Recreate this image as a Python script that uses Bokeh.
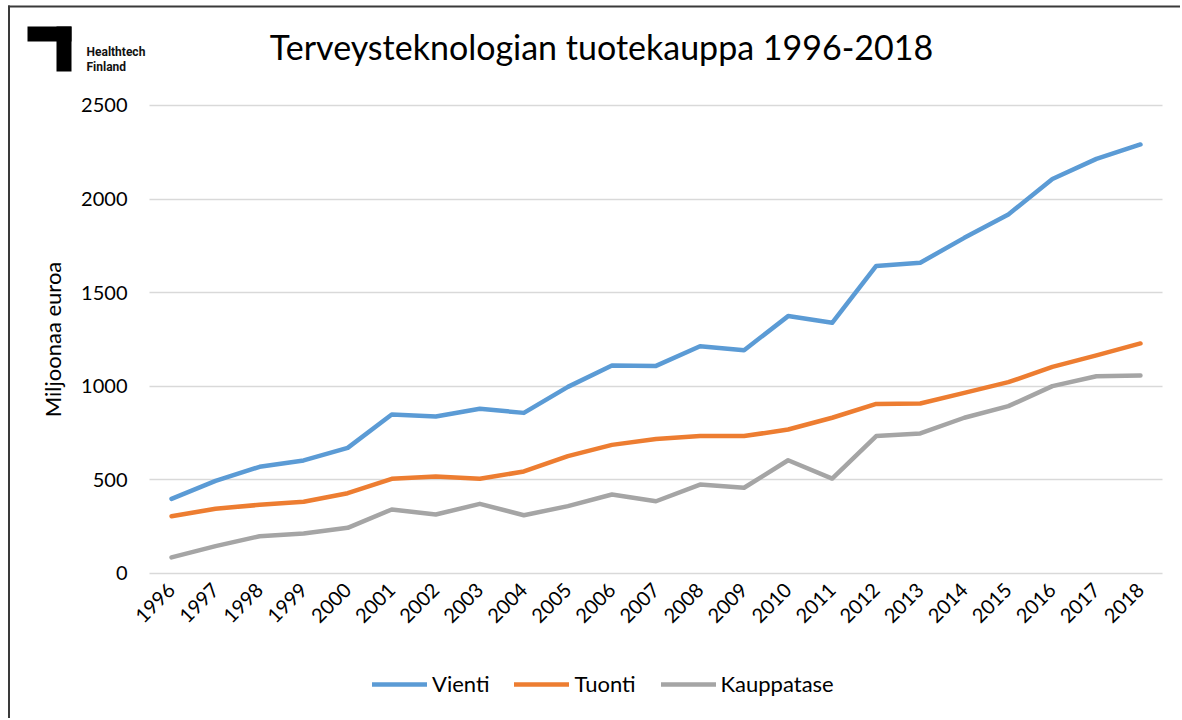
from bokeh.plotting import figure
from bokeh.embed import file_html
from bokeh.resources import INLINE
from bokeh.models import (Legend, LegendItem, BoxAnnotation, Label,
                          Range1d, FixedTicker)

# ---- data ----
years = list(range(1996, 2019))
year_labels = [str(y) for y in years]
vienti = [399, 495, 570, 604, 671, 849, 839, 880, 858, 997, 1111, 1109,
          1214, 1193, 1375, 1339, 1643, 1660, 1793, 1918, 2107, 2215, 2292]
tuonti = [306, 346, 367, 383, 429, 506, 518, 506, 545, 627, 687, 719,
          734, 734, 769, 832, 906, 908, 965, 1022, 1104, 1165, 1229]
kauppatase = [86, 146, 199, 214, 244, 342, 315, 372, 311, 360, 422, 386,
              475, 458, 605, 507, 734, 748, 832, 894, 1001, 1054, 1058]
y_ticks = [0, 500, 1000, 1500, 2000, 2500]
series_names = ["Vienti", "Tuonti", "Kauppatase"]
series_colors = ["#5B9BD5", "#ED7D31", "#A5A5A5"]
title_text = "Terveysteknologian tuotekauppa 1996-2018"
y_label = "Miljoonaa euroa"
logo_lines = ["Healthtech", "Finland"]

FONT = "Lato"

# plot area spans half a category beyond first/last year
x_lo, x_hi = years[0] - 0.5, years[-1] + 0.5
y_lo, y_hi = y_ticks[0], y_ticks[-1]

p = figure(frame_width=1180, frame_height=718,
           x_range=Range1d(1992.1169, 2018.9089),
           y_range=Range1d(-774.6, 3060.9),
           output_backend="svg", toolbar_location=None,
           min_border=0)

p.outline_line_color = None
p.background_fill_color = "white"
p.border_fill_color = "white"

# grid
p.xgrid.visible = False
p.ygrid.ticker = FixedTicker(ticks=y_ticks)
p.ygrid.grid_line_color = "#D9D9D9"
p.ygrid.grid_line_width = 1.5
p.ygrid.bounds = (y_lo, y_hi)
p.ygrid.cross_bounds = (x_lo, x_hi)

# axes
yax = p.yaxis[0]
xax = p.xaxis[0]
yax.ticker = FixedTicker(ticks=y_ticks)
xax.ticker = FixedTicker(ticks=years)
xax.major_label_overrides = {y: s for y, s in zip(years, year_labels)}
yax.fixed_location = x_lo
xax.fixed_location = y_lo
yax.bounds = (y_lo, y_hi)
xax.bounds = (x_lo, x_hi)
for ax in (xax, yax):
    ax.axis_line_color = None
    ax.major_tick_line_color = None
    ax.minor_tick_line_color = None
    ax.major_tick_out = 0
    ax.major_label_text_font = FONT
    ax.major_label_text_font_size = "20px"
    ax.major_label_text_color = "#000000"
yax.major_label_standoff = 22
yax.axis_label = y_label
yax.axis_label_text_font = FONT
yax.axis_label_text_font_size = "22px"
yax.axis_label_text_font_style = "normal"
yax.axis_label_text_color = "#000000"
yax.axis_label_standoff = 12
xax.major_label_orientation = 0.785398
xax.major_label_standoff = 13

renderers = []
for vals, col in zip([vienti, tuonti, kauppatase], series_colors):
    r = p.line(years, vals, line_color=col, line_width=4.5,
               line_cap="round", line_join="round")
    renderers.append(r)

legend = Legend(items=[LegendItem(label=n, renderers=[r])
                       for n, r in zip(series_names, renderers)],
                orientation="horizontal", location=(372, 21),
                border_line_color=None, background_fill_alpha=0,
                label_text_font=FONT, label_text_font_size="22px",
                label_text_color="#000000",
                glyph_width=55, glyph_height=26, label_standoff=5,
                spacing=25, padding=0, margin=0)
p.add_layout(legend, "center")

# title
p.add_layout(Label(x=601, y=672, x_units="screen", y_units="screen",
                   text=title_text, text_font=FONT, text_font_size="34px",
                   text_color="#000000", text_align="center",
                   text_baseline="alphabetic"))

# logo
for l, r, t, b in [(27, 71, 692, 677), (56, 71, 692, 647)]:
    p.add_layout(BoxAnnotation(left=l, right=r, top=t, bottom=b,
                               left_units="screen", right_units="screen",
                               top_units="screen", bottom_units="screen",
                               fill_color="black", fill_alpha=1,
                               line_color=None))
for txt, yb in zip(logo_lines, [667, 652]):
    p.add_layout(Label(x=86, y=yb, x_units="screen", y_units="screen",
                       text=txt, text_font="Roboto",
                       text_font_size="12px", text_font_style="bold",
                       text_color="#111111", text_baseline="alphabetic"))

# outer chart border (top and left edges only)
for l, r, t, b in [(7.5, 1180, 713, 711), (7.5, 9.5, 713, 0)]:
    p.add_layout(BoxAnnotation(left=l, right=r, top=t, bottom=b,
                               left_units="screen", right_units="screen",
                               top_units="screen", bottom_units="screen",
                               fill_color="#3A3A3A", fill_alpha=1,
                               line_color=None))

open("out.html", "w").write(file_html(p, INLINE))
